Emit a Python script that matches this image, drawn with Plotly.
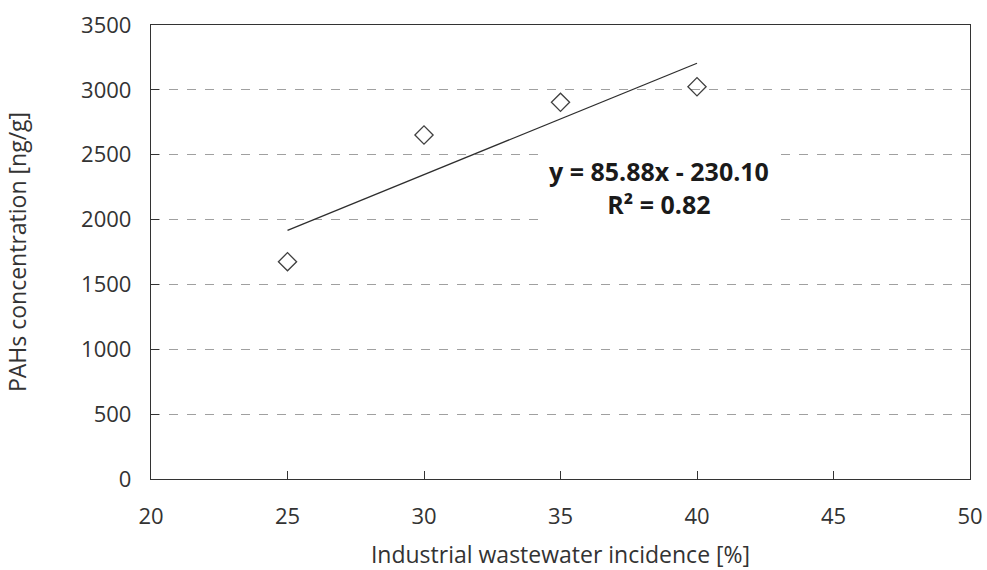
import plotly.graph_objects as go

incidence = [25, 30, 35, 40]
pahs = [1675, 2652, 2904, 3024]
trend_x = [25, 40]
slope = 85.88
intercept = -230.10
r2 = 0.82
trend_y = [slope * x + intercept for x in trend_x]

x_ticks = [20, 25, 30, 35, 40, 45, 50]
y_ticks = [0, 500, 1000, 1500, 2000, 2500, 3000, 3500]

font_family = "Open Sans, Liberation Sans, sans-serif"

fig = go.Figure()
fig.add_trace(go.Scatter(
    x=trend_x, y=trend_y, mode="lines",
    line=dict(color="#2e2e2e", width=1.3), showlegend=False, hoverinfo="skip"))
fig.add_trace(go.Scatter(
    x=incidence, y=pahs, mode="markers",
    marker=dict(symbol="diamond-open", size=14, color="#404040", line=dict(width=1.3)),
    showlegend=False))

fig.add_annotation(
    x=0.62, y=2250, xref="paper", yref="y",
    text=f"<b>y = {slope:.2f}x - {abs(intercept):.2f}<br>R² = {r2:.2f}</b>",
    showarrow=False, align="center",
    font=dict(family=font_family, size=25, color="#1a1a1a"),
    bgcolor="white", borderpad=6)

fig.update_layout(
    width=987, height=570,
    margin=dict(l=151, r=17, t=25, b=91, autoexpand=False),
    paper_bgcolor="white", plot_bgcolor="white",
    font=dict(family=font_family, size=18, color="#333333"),
)
fig.update_xaxes(
    range=[20, 50], tickvals=x_ticks, ticks="inside", ticklen=8, tickcolor="#333",
    showline=True, linecolor="#333", linewidth=1.3, mirror=True, automargin=False,
    showgrid=False, zeroline=False, ticklabelstandoff=17,
    title=dict(text="Industrial wastewater incidence [%]", standoff=20,
               font=dict(size=23)),
    tickfont=dict(size=22))
fig.update_yaxes(
    range=[0, 3500], tickvals=y_ticks, ticks="inside", ticklen=8, tickcolor="#333",
    showline=True, linecolor="#333", linewidth=1.3, mirror=True, automargin=False,
    showgrid=True, gridcolor="#a0a0a0", griddash="dash", gridwidth=1,
    zeroline=False, ticklabelstandoff=14,
    title=dict(text="PAHs concentration [ng/g]", standoff=48,
               font=dict(size=23)),
    tickfont=dict(size=22))

fig.write_html("out.html")
